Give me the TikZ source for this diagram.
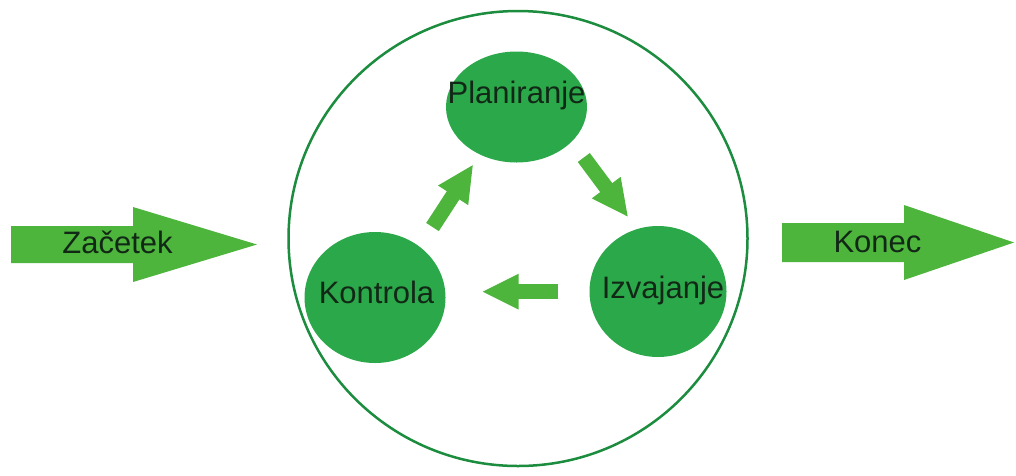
\documentclass[tikz,border=0pt]{standalone}
\usepackage{fontspec}
\setmainfont{Liberation Sans}
\usetikzlibrary{arrows.meta,shapes.geometric}
\definecolor{bubblegreen}{RGB}{43,168,74}
\definecolor{arrowgreen}{RGB}{77,180,60}
\definecolor{ringgreen}{RGB}{28,140,62}
\definecolor{labelink}{RGB}{18,40,22}
\begin{document}
\begin{tikzpicture}[x=1pt,y=-1pt,
  bubble/.style={ellipse, fill=bubblegreen, draw=none, inner sep=0pt, outer sep=0pt},
  lbl/.style={anchor=base, text=labelink, font=\fontsize{31}{36}\selectfont, inner sep=0pt},
  flow/.style={line width=15pt, draw=arrowgreen, -{Triangle[width=33pt,length=37pt]}},
  bigarrow/.style={fill=arrowgreen}]
\useasboundingbox (0,0) rectangle (1016,475);

% outer ring holding the cycle
\node[ellipse, draw=ringgreen, line width=2.5pt, minimum width=459pt,
      minimum height=455pt, inner sep=0pt] (ring) at (518,238.5) {};

% the three phases
\node[bubble, minimum width=141pt, minimum height=111pt] (plan) at (516.5,107) {};
\node[bubble, minimum width=141pt, minimum height=131pt] (kont) at (375,297.5) {};
\node[bubble, minimum width=137pt, minimum height=131pt] (izv)  at (658,291.5) {};

% arrows of the cycle
\coordinate (kp-a) at (432.5,227);   \coordinate (kp-b) at (473.3,164.3);
\coordinate (pi-a) at (583.8,157.5); \coordinate (pi-b) at (628.3,217.3);
\coordinate (ik-a) at (557.7,291.7); \coordinate (ik-b) at (481.7,291.7);
\draw[flow] (kp-a) -- (kp-b);
\draw[flow] (pi-a) -- (pi-b);
\draw[flow] (ik-a) -- (ik-b);

% entry and exit block arrows
\fill[bigarrow] (11,226) -- (133,226) -- (133,207) -- (257,244.5) -- (133,282)
  -- (133,263) -- (11,263) -- cycle;
\fill[bigarrow] (782,223) -- (904,223) -- (904,205) -- (1014,242.5) -- (904,280)
  -- (904,262) -- (782,262) -- cycle;

% labels
\node[lbl] (planT)  at (516.5,103) {Planiranje};
\node[lbl] (kontT)  at (376.5,303) {Kontrola};
\node[lbl] (izvT)   at (663,298)   {Izvajanje};
\node[lbl] (startT) at (117.5,253) {Začetek};
\node[lbl] (endT)   at (877.5,252) {Konec};
\end{tikzpicture}
\end{document}
